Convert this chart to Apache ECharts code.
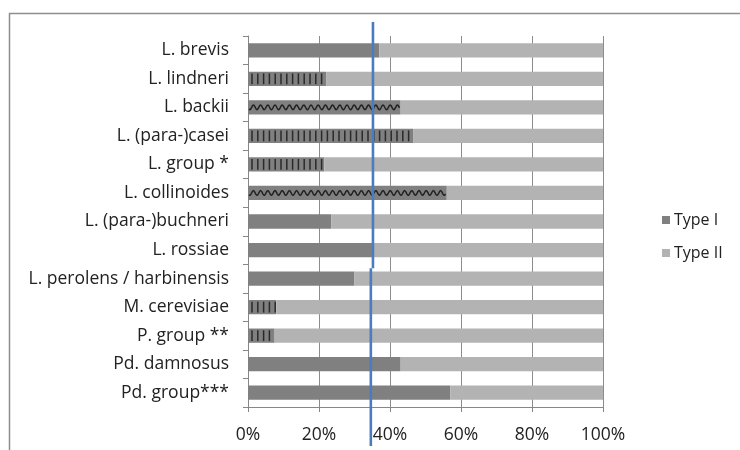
<!DOCTYPE html>
<html>
<head>
<meta charset="utf-8">
<script src="https://cdn.jsdelivr.net/npm/echarts@6/dist/echarts.min.js"></script>
<style>
  html, body { margin: 0; padding: 0; background: #fff; }
  #chart { width: 740px; height: 450px; }
</style>
</head>
<body>
<div id="chart"></div>
<script>
// Share of Type I vs Type II per species / group (percent)
const categories = [
  'L. brevis', 'L. lindneri', 'L. backii', 'L. (para-)casei', 'L. group *',
  'L. collinoides', 'L. (para-)buchneri', 'L. rossiae', 'L. perolens / harbinensis',
  'M. cerevisiae', 'P. group **', 'Pd. damnosus', 'Pd. group***'
];
const typeI = [37, 22, 43, 46.5, 21.5, 56, 23.5, 35, 30, 8, 7.5, 43, 57];
const typeII = [63, 78, 57, 53.5, 78.5, 44, 76.5, 65, 70, 92, 92.5, 57, 43];
// fill style of the Type I bar: 'solid', 'stripes' or 'wave'
const typeIFill = ['solid', 'stripes', 'wave', 'stripes', 'stripes', 'wave', 'solid',
  'solid', 'solid', 'stripes', 'stripes', 'solid', 'solid'];
const xTicks = [0, 20, 40, 60, 80, 100];
// hand-drawn reference line: upper part down to the L. rossiae row, then lower part
const refLineUpper = 35.2;
const refLineLower = 34.6;

const FONT = 'Open Sans';
const FS = 17.5;
const chart = echarts.init(document.getElementById('chart'));

const patternData = typeI.map((v, i) => [v, i, typeIFill[i]]).filter(d => d[2] !== 'solid');

function renderPattern(params, api) {
  const value = api.value(0);
  const cat = api.value(1);
  const kind = patternData[params.dataIndex][2];
  const start = api.coord([0, cat]);
  const end = api.coord([value, cat]);
  const band = api.size([0, 1])[1];
  const h = band * 0.5;
  const cy = start[1];
  const children = [];
  if (kind === 'stripes') {
    for (let x = start[0] + 4; x < end[0] - 1; x += 5.8) {
      children.push({
        type: 'line',
        shape: { x1: x, y1: cy - h * 0.38, x2: x, y2: cy + h * 0.38 },
        style: { stroke: '#2a2a2a', lineWidth: 1.5 }
      });
    }
  } else {
    const pts = [];
    for (let x = start[0] + 1; x <= end[0] - 1; x += 0.5) {
      pts.push([x, cy + 2.3 * Math.sin((x - start[0]) / 7.2 * Math.PI * 2)]);
    }
    children.push({
      type: 'polyline',
      shape: { points: pts },
      style: { stroke: '#222', lineWidth: 1.5, fill: null }
    });
  }
  return { type: 'group', children: children };
}

chart.setOption({
  animation: false,
  textStyle: { fontFamily: FONT },
  grid: { left: 248, right: 137, top: 36, bottom: 43 },
  legend: {
    orient: 'vertical',
    left: 657,
    top: 207,
    itemWidth: 8,
    itemHeight: 8,
    itemGap: 17,
    icon: 'rect',
    data: ['Type I', 'Type II'],
    textStyle: { fontFamily: FONT, fontSize: 16, color: '#222', padding: [0, 0, 0, -1] }
  },
  xAxis: {
    type: 'value',
    min: xTicks[0],
    max: xTicks[xTicks.length - 1],
    interval: 20,
    axisLine: { show: true, lineStyle: { color: '#878787', width: 1 } },
    axisTick: { show: true, length: 5, lineStyle: { color: '#878787' } },
    splitLine: { show: true, lineStyle: { color: '#8c8c8c', width: 1 } },
    axisLabel: { formatter: '{value}%', fontFamily: FONT, fontSize: FS, color: '#222', margin: 19 }
  },
  yAxis: {
    type: 'category',
    data: categories,
    inverse: true,
    axisLine: { show: true, lineStyle: { color: '#878787', width: 1 } },
    axisTick: { show: true, length: 5, lineStyle: { color: '#878787' } },
    axisLabel: { fontFamily: FONT, fontSize: FS, color: '#222', margin: 19 }
  },
  series: [
    {
      name: 'Type I',
      type: 'bar',
      stack: 'share',
      data: typeI,
      barCategoryGap: '50%',
      itemStyle: { color: '#808080' }
    },
    {
      name: 'Type II',
      type: 'bar',
      stack: 'share',
      data: typeII,
      barCategoryGap: '50%',
      itemStyle: { color: '#b3b3b3' }
    },
    {
      type: 'custom',
      renderItem: renderPattern,
      data: patternData.map(d => [d[0], d[1]]),
      encode: { x: 0, y: 1 },
      z: 5,
      silent: true
    }
  ]
});

// frame and reference line, placed through the axes' own coordinate conversion
const xUp = chart.convertToPixel({ xAxisIndex: 0 }, refLineUpper);
const xLow = chart.convertToPixel({ xAxisIndex: 0 }, refLineLower);
const yA = chart.convertToPixel({ yAxisIndex: 0 }, 'L. rossiae');
const yB = chart.convertToPixel({ yAxisIndex: 0 }, 'L. perolens / harbinensis');
const yJog = (yA + yB) / 2 + 4;

chart.setOption({
  graphic: [
    {
      type: 'rect',
      shape: { x: 9.5, y: 13.5, width: 800, height: 500 },
      style: { stroke: '#8e8e8e', lineWidth: 1.5, fill: null },
      z: 0, silent: true
    },
    {
      type: 'line',
      shape: { x1: xUp, y1: 22, x2: xUp, y2: yJog },
      style: { stroke: '#4a7dbf', lineWidth: 2.6 },
      z: 100, silent: true
    },
    {
      type: 'line',
      shape: { x1: xLow, y1: yJog, x2: xLow, y2: 446 },
      style: { stroke: '#4a7dbf', lineWidth: 2.6 },
      z: 100, silent: true
    }
  ]
});
</script>
</body>
</html>
